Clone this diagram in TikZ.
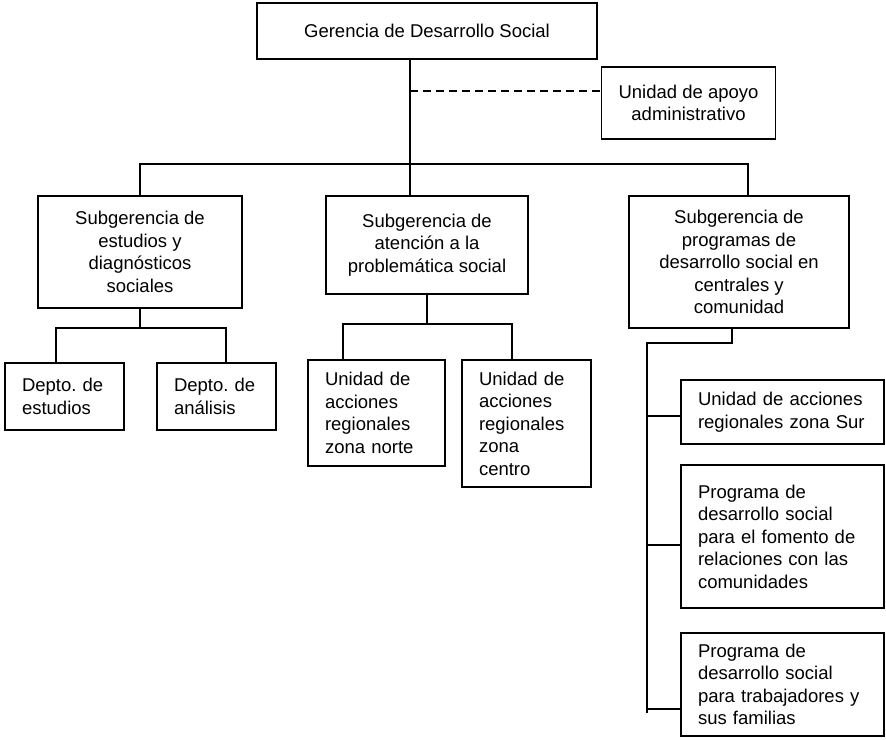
\documentclass[tikz,border=0pt]{standalone}
\usepackage{fontspec}
\setmainfont{Liberation Sans}
\frenchspacing

\begin{document}
\begin{tikzpicture}[x=1pt,y=-1pt,line width=1.5pt,
    box/.style={draw,inner xsep=17pt,inner ysep=0pt,font=\fontsize{18.5}{22.5}\selectfont},
    cbox/.style={box,align=center},
    lbox/.style={box,align=left}]
        \useasboundingbox (0,0) rectangle (886,739);

        % boxes
        \node[cbox,minimum width=340,minimum height=56] (ger) at (427,31) {Gerencia de Desarrollo Social};
        \node[cbox,minimum width=151,minimum height=72] (adm) at (688.5,103) {Unidad de apoyo\\administrativo};

        \node[cbox,minimum width=204,minimum height=112] (sub1) at (140,252) {Subgerencia de\\estudios y\\diagnósticos\\sociales};
        \node[cbox,minimum width=202,minimum height=98] (sub2) at (427,245) {Subgerencia de\\atención a la\\problemática social};
        \node[cbox,minimum width=220,minimum height=132] (sub3) at (739,262) {Subgerencia de\\programas de\\desarrollo social en\\centrales y\\comunidad};

        \node[lbox,text width=85,minimum height=67] (dep1) at (64.5,396.5) {Depto. de\\estudios};
        \node[lbox,text width=85,minimum height=67] (dep2) at (216.5,396.5) {Depto. de\\análisis};
        \node[lbox,text width=103,minimum height=106] (uno) at (376.5,413) {Unidad de\\acciones\\regionales\\zona norte};
        \node[lbox,text width=95,minimum height=127] (uce) at (526.5,423.5) {Unidad de\\acciones\\regionales\\zona\\centro};

        \node[lbox,text width=169,minimum height=64] (sur) at (782.5,412) {Unidad de acciones\\regionales zona Sur};
        \node[lbox,text width=169,minimum height=143] (pr1) at (782.5,536.5) {Programa de\\desarrollo social\\para el fomento de\\relaciones con las\\comunidades};
        \node[lbox,text width=169,minimum height=103] (pr2) at (782.5,684.5) {Programa de\\desarrollo social\\para trabajadores y\\sus familias};

        % lines
        \coordinate (bus) at (410,164);
        \coordinate (busL) at (140,164);
        \coordinate (busR) at (748,164);
        \coordinate (dsh) at (410,91);
        \draw (ger.south -| bus) -- (bus |- sub2.north);
        \draw[line width=1.2pt,dash pattern=on 8pt off 5pt] (dsh) -- (dsh -| adm.west);
        \draw (sub1.north) -- (busL) -- (busR) -- (busR |- sub3.north);

        \coordinate (b1l) at (56,328);
        \coordinate (b1r) at (226,328);
        \draw (sub1.south) -- (sub1.south |- b1l);
        \draw (b1l |- dep1.north) -- (b1l) -- (b1r) -- (b1r |- dep2.north);

        \coordinate (b2l) at (343,324);
        \coordinate (b2r) at (512,324);
        \draw (sub2.south) -- (sub2.south |- b2l);
        \draw (b2l |- uno.north) -- (b2l) -- (b2r) -- (b2r |- uce.north);

        \coordinate (b3) at (732,343);
        \coordinate (spine) at (647,343);
        \coordinate (spineEnd) at (647,713);
        \coordinate (k0) at (647,416);
        \coordinate (k1) at (647,545);
        \coordinate (k2) at (647,709);
        \draw (sub3.south -| b3) -- (b3) -- (spine) -- (spineEnd);
        \draw (k0) -- (k0 -| sur.west);
        \draw (k1) -- (k1 -| pr1.west);
        \draw (k2) -- (k2 -| pr2.west);
\end{tikzpicture}
\end{document}
